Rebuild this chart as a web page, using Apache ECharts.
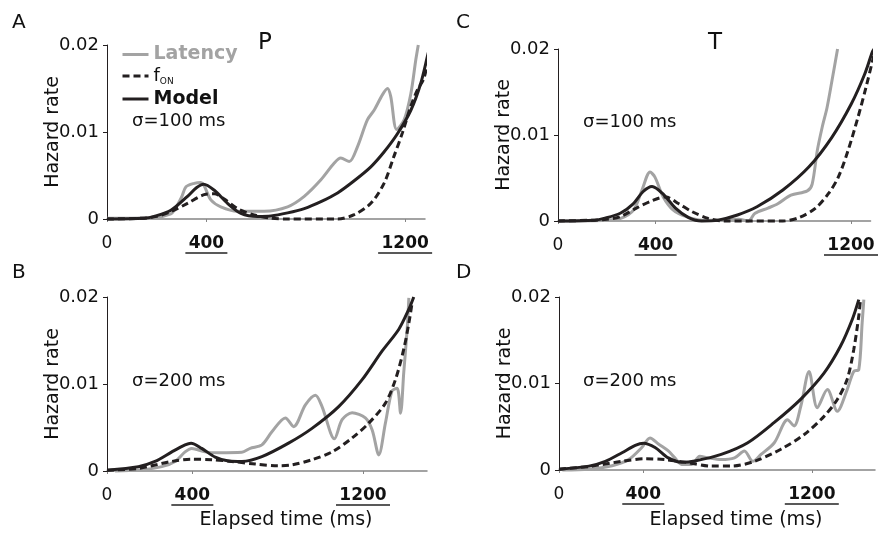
<!DOCTYPE html>
<html>
<head>
<meta charset="utf-8" />
<title>Hazard rate</title>
<script src="https://cdn.jsdelivr.net/npm/echarts@6/dist/echarts.min.js"></script>
<style>
  html, body { margin: 0; padding: 0; background: #fff; }
  #chart { width: 881px; height: 541px; }
</style>
</head>
<body>
<div id="chart"></div>
<script>
// elapsed time (ms), hazard rate
var latencyA = [[0,0.0001],[100,0.0001],[200,0.0002],[257,0.0006],[271,0.0010],[300,0.0025],[318,0.0037],[351,0.0041],[378,0.0042],[418,0.0022],[458,0.0014],[525,0.0009],[633,0.0009],[727,0.0014],[794,0.0026],[861,0.0045],[914,0.0064],[941,0.0070],[975,0.0066],[1008,0.0083],[1048,0.0114],[1075,0.0125],[1109,0.0143],[1129,0.0150],[1142,0.0141],[1166,0.0103],[1196,0.0114],[1223,0.0144],[1243,0.0183],[1253,0.0200]];
var fonA = [[0,0],[150,0.0001],[200,0.0003],[257,0.00085],[324,0.0018],[391,0.0028],[432,0.0029],[472,0.0023],[525,0.0012],[592,0.00046],[660,0.0001],[727,0],[928,0],[995,0.0005],[1062,0.0018],[1115,0.0041],[1155,0.0072],[1189,0.0099],[1222,0.0129],[1249,0.0148],[1276,0.0162],[1305,0.0200]];
var modelA = [[0,0],[150,0.0001],[190,0.0003],[257,0.0010],[324,0.0026],[360,0.0036],[389,0.0040],[432,0.0033],[485,0.0018],[539,0.00065],[606,0.0003],[660,0.00035],[727,0.0007],[794,0.0012],[861,0.0020],[928,0.0030],[995,0.0044],[1062,0.0060],[1115,0.0077],[1169,0.0098],[1223,0.0125],[1263,0.0156],[1296,0.0194],[1305,0.0200]];

var latencyC = [[0,0],[200,0.0001],[257,0.0003],[310,0.0013],[344,0.0036],[377,0.0057],[397,0.0051],[431,0.0028],[471,0.0013],[525,0.0005],[592,0.0001],[659,0.0001],[740,0.0002],[780,0],[807,0.0009],[860,0.0015],[900,0.0020],[954,0.0030],[1021,0.0035],[1041,0.0043],[1062,0.0082],[1082,0.0109],[1102,0.0132],[1122,0.0163],[1145,0.0200]];
var fonC = [[0,0],[150,0.0001],[200,0.0002],[255,0.0005],[321,0.0015],[388,0.0024],[441,0.0028],[495,0.0020],[548,0.0011],[615,0.0003],[681,0],[921,0],[988,0.0004],[1055,0.0015],[1108,0.0032],[1148,0.0051],[1188,0.0082],[1228,0.0120],[1261,0.0155],[1288,0.0186],[1300,0.0200]];
var modelC = [[0,0],[150,0.0001],[188,0.0003],[255,0.0009],[308,0.0020],[348,0.0034],[385,0.0040],[428,0.0032],[481,0.0015],[535,0.0004],[588,0],[655,0.0001],[735,0.0007],[815,0.00165],[921,0.0036],[1028,0.0063],[1121,0.0097],[1201,0.0136],[1255,0.0170],[1288,0.0197],[1295,0.0200]];

var latencyB = [[38,0],[147,0.0001],[257,0.0005],[319,0.0011],[366,0.0022],[397,0.0026],[460,0.0022],[523,0.0021],[632,0.00215],[671,0.0026],[726,0.0030],[773,0.0045],[836,0.0061],[875,0.0051],[930,0.0076],[977,0.0087],[1008,0.0074],[1066,0.0037],[1102,0.0059],[1149,0.0067],[1211,0.0061],[1243,0.0047],[1274,0.00185],[1305,0.0055],[1336,0.0092],[1360,0.0095],[1376,0.00665],[1391,0.0113],[1407,0.0163],[1415,0.0199]];
var fonB = [[0,0.0001],[147,0.0003],[304,0.0011],[397,0.00135],[491,0.0013],[585,0.0011],[695,0.0008],[804,0.0006],[867,0.0007],[961,0.0013],[1055,0.0022],[1149,0.0038],[1227,0.0055],[1305,0.0078],[1352,0.0105],[1391,0.0140],[1415,0.0170],[1430,0.0193]];
var modelB = [[0,0.0001],[147,0.0005],[225,0.0011],[304,0.0022],[366,0.0030],[394,0.0032],[444,0.0026],[507,0.0016],[570,0.00115],[632,0.0011],[726,0.00165],[851,0.0032],[961,0.0049],[1086,0.0074],[1196,0.0105],[1290,0.0138],[1368,0.0163],[1415,0.0186],[1438,0.0200]];

var latencyD = [[16,0],[142,0.0001],[252,0.0005],[330,0.0012],[393,0.0026],[432,0.0037],[472,0.0030],[519,0.0022],[550,0.0014],[582,0.00065],[629,0.00065],[668,0.0016],[708,0.0014],[770,0.0012],[833,0.0014],[880,0.0022],[920,0.0010],[959,0.0018],[1022,0.00315],[1085,0.0058],[1116,0.0051],[1148,0.0074],[1187,0.0114],[1226,0.0072],[1274,0.0093],[1321,0.0068],[1368,0.0093],[1399,0.0114],[1423,0.0116],[1439,0.0170],[1447,0.0197]];
var fonD = [[0,0.0001],[142,0.0004],[299,0.0010],[409,0.0013],[503,0.0012],[613,0.00085],[723,0.00045],[818,0.00045],[928,0.0010],[1053,0.0024],[1164,0.0041],[1258,0.0062],[1321,0.00815],[1368,0.0105],[1399,0.0139],[1423,0.0178],[1431,0.0197]];
var modelD = [[0,0.0001],[142,0.00045],[220,0.0010],[299,0.0020],[362,0.00285],[401,0.0031],[456,0.0026],[519,0.0014],[582,0.0009],[645,0.00105],[770,0.0018],[896,0.00315],[1022,0.0055],[1148,0.0082],[1258,0.0112],[1336,0.0143],[1392,0.0174],[1423,0.0197]];

var xTicks = [0, 400, 1200];
var panelLetters = ['A', 'B', 'C', 'D'];
var sigmaLabels = ['σ=100 ms', 'σ=200 ms', 'σ=100 ms', 'σ=200 ms'];

var FONT = 'DejaVu Sans';
var GRAY = '#a3a3a3';
var DARK = '#231f20';

var chart = echarts.init(document.getElementById('chart'));

// one entry per panel: A, B, C, D
var grids = [
  { left: 107, top: 45, width: 318, height: 174 },
  { left: 107, top: 297, width: 320, height: 174 },
  { left: 558, top: 49, width: 317, height: 172 },
  { left: 559, top: 297, width: 316, height: 173 }
];
var xMax = [1280, 1500, 1280, 1500];
var panelData = [
  [latencyA, fonA, modelA],
  [latencyB, fonB, modelB],
  [latencyC, fonC, modelC],
  [latencyD, fonD, modelD]
];

var xAxes = [], yAxes = [], series = [];
for (var i = 0; i < 4; i++) {
  xAxes.push({
    type: 'value', gridIndex: i, min: 0, max: xMax[i], offset: 9,
    axisLine: { show: true, lineStyle: { color: '#858585', width: 1.5 } },
    axisTick: { show: true, customValues: xTicks, length: 3, lineStyle: { color: '#858585' } },
    splitLine: { show: false },
    axisLabel: {
      customValues: xTicks, margin: 8, color: '#111',
      formatter: function (v) {
        if (v === 0) return '{n|0}';
        return '{b|' + v + '}\n{' + (v === 400 ? 'u4' : 'u12') + '|}';
      },
      rich: {
        n: { fontFamily: FONT, fontSize: 17, color: '#111', lineHeight: 16 },
        b: { fontFamily: FONT, fontSize: 17, fontWeight: 'bold', color: '#111', lineHeight: 16 },
        u4: { width: 42, height: 1.5, lineHeight: 2, backgroundColor: '#222' },
        u12: { width: 54, height: 1.5, lineHeight: 2, backgroundColor: '#222' }
      }
    }
  });
  yAxes.push({
    type: 'value', gridIndex: i, min: 0, max: 0.02, interval: 0.01,
    name: 'Hazard rate', nameLocation: 'middle', nameGap: 44, nameMoveOverlap: false,
    nameTextStyle: { fontFamily: FONT, fontSize: 19, color: '#111' },
    axisLine: { show: true, lineStyle: { color: DARK, width: 1 } },
    axisTick: { show: true, length: 4, lineStyle: { color: DARK } },
    splitLine: { show: false },
    axisLabel: {
      margin: 8, fontFamily: FONT, fontSize: 18, color: '#111',
      formatter: function (v) { return v === 0 ? '0' : v.toFixed(2); }
    }
  });
  var d = panelData[i];
  series.push({
    name: 'Latency', type: 'line', xAxisIndex: i, yAxisIndex: i, data: d[0],
    symbol: 'none', smooth: 0.3, clip: false, z: 2,
    lineStyle: { color: GRAY, width: 3 }, itemStyle: { color: GRAY }
  });
  series.push({
    name: 'f_ON', type: 'line', xAxisIndex: i, yAxisIndex: i, data: d[1],
    symbol: 'none', smooth: 0.3, clip: false, z: 3,
    lineStyle: { color: DARK, width: 3, type: [7, 4] }, itemStyle: { color: DARK }
  });
  series.push({
    name: 'Model', type: 'line', xAxisIndex: i, yAxisIndex: i, data: d[2],
    symbol: 'none', smooth: 0.3, clip: false, z: 4,
    lineStyle: { color: DARK, width: 3 }, itemStyle: { color: DARK }
  });
}

function txt(x, y, text, size, align) {
  return {
    type: 'text', x: x, y: y,
    style: {
      text: text, fontFamily: FONT, fontSize: size, fill: '#111',
      align: align || 'left', verticalAlign: 'middle'
    }
  };
}

var graphics = [
  txt(12, 23, panelLetters[0], 20),
  txt(12, 273, panelLetters[1], 20),
  txt(456, 23, panelLetters[2], 20),
  txt(456, 273, panelLetters[3], 20),
  txt(265, 43, 'P', 23, 'center'),
  txt(715, 43, 'T', 23, 'center'),
  txt(132, 121, sigmaLabels[0], 18),
  txt(132, 381, sigmaLabels[1], 18),
  txt(583, 122, sigmaLabels[2], 18),
  txt(583, 381, sigmaLabels[3], 18),
  txt(286, 520, 'Elapsed time (ms)', 19, 'center'),
  txt(736, 520, 'Elapsed time (ms)', 19, 'center')
];

chart.setOption({
  animation: false,
  backgroundColor: '#fff',
  grid: grids,
  xAxis: xAxes,
  yAxis: yAxes,
  legend: {
    data: ['Latency', 'f_ON', 'Model'],
    orient: 'vertical', left: 116, top: 40,
    itemWidth: 26, itemHeight: 14, itemGap: 3,
    selectedMode: false,
    itemStyle: { opacity: 0 },
    lineStyle: { width: 3 },
    formatter: function (name) {
      if (name === 'Latency') return '{lat|Latency}';
      if (name === 'Model') return '{mod|Model}';
      return '{f|f}{sub|ON}';
    },
    textStyle: {
      fontFamily: FONT, fontSize: 18,
      rich: {
        lat: { fontFamily: FONT, fontSize: 19, fontWeight: 'bold', color: GRAY, lineHeight: 21 },
        mod: { fontFamily: FONT, fontSize: 19, fontWeight: 'bold', color: '#111', lineHeight: 21 },
        f: { fontFamily: FONT, fontSize: 18, color: '#111', lineHeight: 21 },
        sub: { fontFamily: FONT, fontSize: 9, color: '#111', lineHeight: 9, verticalAlign: 'bottom' }
      }
    }
  },
  graphic: graphics,
  series: series
});
</script>
</body>
</html>
